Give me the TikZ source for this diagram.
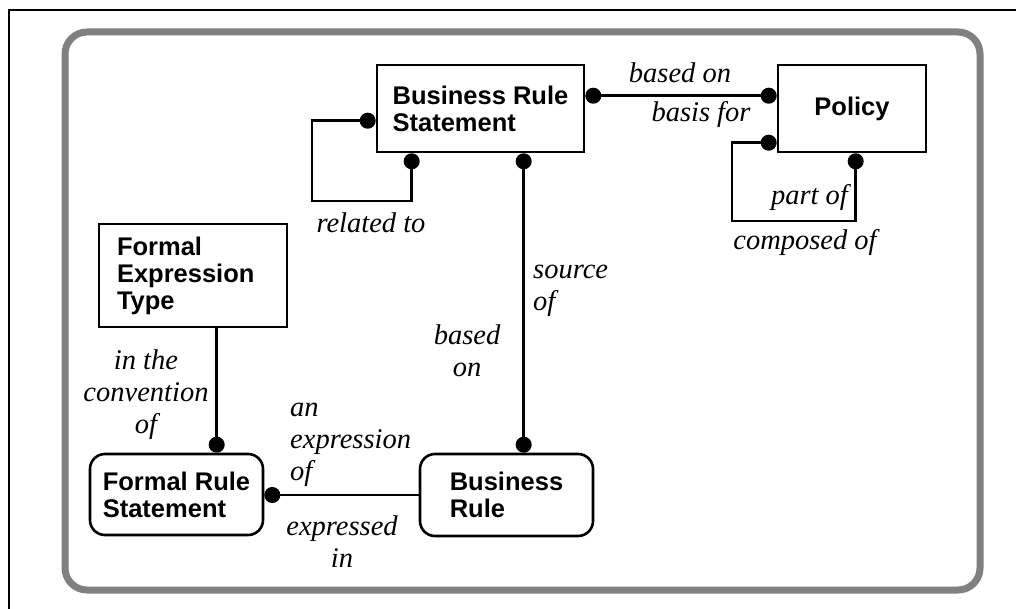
\documentclass[tikz,border=0pt]{standalone}
\usepackage{fontspec}
\setmainfont{Liberation Serif}
\setsansfont{Liberation Sans}
\usetikzlibrary{arrows.meta}
\definecolor{framegray}{RGB}{128,128,128}
\tikzset{ball/.tip={Circle[length=16pt,width=16pt]}}
\begin{document}
\begin{tikzpicture}[x=1pt,y=-1pt,
  entity/.style={draw, line width=2.6pt, align=left, inner sep=0pt,
    font=\sffamily\bfseries\fontsize{25.5}{27}\selectfont},
  rounded entity/.style={entity, rounded corners=15pt},
  rel/.style={line width=2.6pt},
  role/.style={font=\itshape\fontsize{28.5}{32}\selectfont, inner sep=0pt}]
\useasboundingbox (0,0) rectangle (1016,609);

% page frame and rounded panel
\draw[line width=1.5pt] (9,609) -- (9,10) -- (1016,10);
\draw[framegray, line width=7pt, rounded corners=22pt] (65,32) rectangle (980,590);

% entities
\node[entity, minimum width=207pt, minimum height=87pt] (brs) at (480.5,108.5) {Business Rule\\Statement};
\node[entity, minimum width=148pt, minimum height=87pt] (pol) at (852,108.5) {Policy};
\node[entity, minimum width=188pt, minimum height=103pt, text width=152pt] (fet) at (193,275.5) {Formal\\Expression\\Type};
\node[rounded entity, minimum width=173pt, minimum height=81pt] (frs) at (176.5,494.5) {Formal Rule\\Statement};
\node[rounded entity, minimum width=173pt, minimum height=82pt] (br) at (506.5,495) {Business\\Rule};

% relationships
\draw[rel, ball-ball] ([yshift=-32pt]brs.north east) -- ([yshift=-32pt]pol.north west);
\draw[rel, ball-ball] ([yshift=-57pt]brs.north west) -| (312,201) -| ([xshift=36pt]brs.south west);
\draw[rel, ball-ball] ([yshift=-79pt]pol.north west) -| (732,221) -| ([xshift=79pt]pol.south west);
\draw[rel, ball-ball] ([xshift=148pt]brs.south west) coordinate (v) -- (v |- br.north);
\draw[rel, -ball] ([xshift=119pt]fet.south west) coordinate (w) -- (w |- frs.north);
\draw[rel, -ball] (br.west) -- (br.west -| frs.east);

% role names (base anchor sits on the last line)
\node[role, anchor=base] (r1) at (680,83) {based on};
\node[role, anchor=base] (r2) at (701,122) {basis for};
\node[role, anchor=base] (r3) at (371,233) {related to};
\node[role, anchor=base east] (r4) at (848,205) {part of};
\node[role, anchor=base] (r5) at (805,250) {composed of};
\node[role, anchor=base west, align=left] (r6) at (533,310) {source\\of};
\node[role, anchor=base, align=center] (r7) at (467,376) {based\\on};
\node[role, anchor=base, align=center] (r8) at (146,433) {in the\\convention\\of};
\node[role, anchor=base west, align=left] (r9) at (290,480) {an\\expression\\of};
\node[role, anchor=base, align=center] (r10) at (342,567) {expressed\\in};
\end{tikzpicture}
\end{document}
